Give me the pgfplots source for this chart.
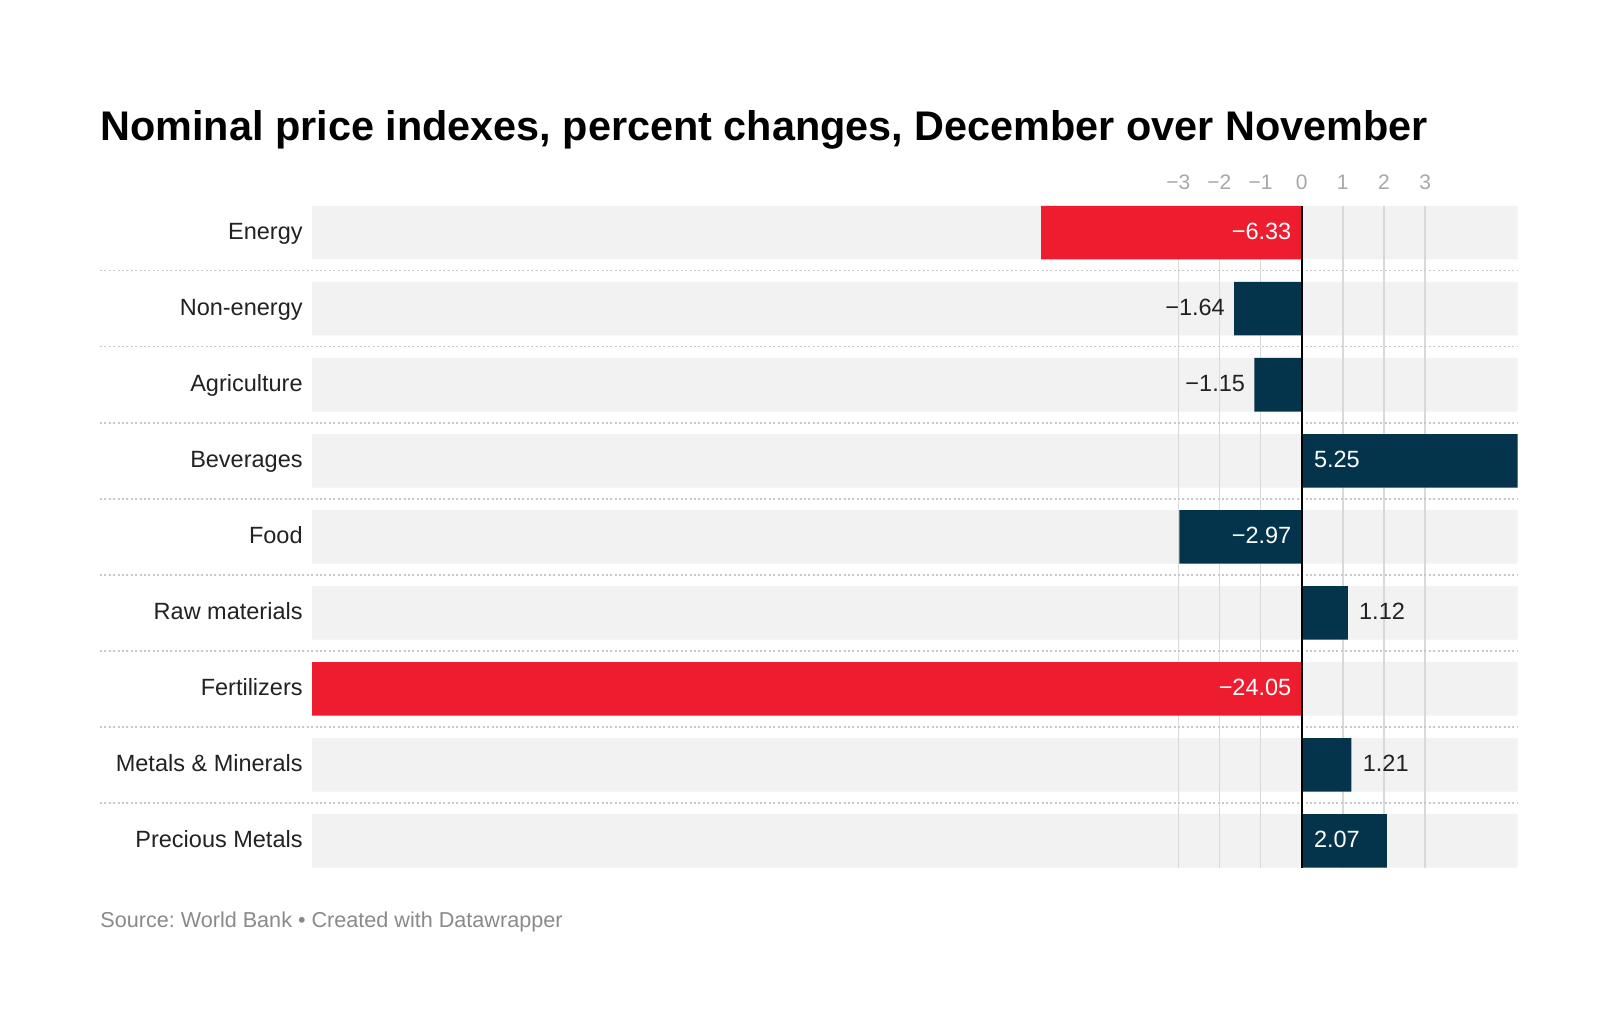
\documentclass[border=0pt]{standalone}
\usepackage{pgfplots}
\pgfplotsset{compat=1.18}
\usepackage{fontspec}
\setmainfont{Liberation Sans}
\definecolor{dwred}{HTML}{ED1C2E}
\definecolor{dwnavy}{HTML}{04344C}
\definecolor{bggray}{HTML}{F2F2F2}
\definecolor{gridgray}{HTML}{D9D9D9}
\definecolor{sepgray}{HTML}{C8C8C8}
\definecolor{tickgray}{HTML}{A8A8A8}
\definecolor{srcgray}{HTML}{8A8A8A}
\definecolor{labdark}{HTML}{222222}
\newcommand\mn{\char"2212\relax}
\newcommand\lblfont{\fontsize{11.75bp}{14bp}\selectfont}
\frenchspacing
\begin{document}
\begin{tikzpicture}
\useasboundingbox (0,0) rectangle (810bp,517bp);
\fill[white] (0,0) rectangle (810bp,517bp);
\node[anchor=base west, inner sep=0pt, font=\fontsize{20.7bp}{25bp}\selectfont\bfseries] at (50bp,446.5bp) {Nominal price indexes, percent changes, December over November};
\node[anchor=base west, inner sep=0pt, font=\fontsize{10.8bp}{13bp}\selectfont, text=srcgray] at (50bp,53bp) {Source: World Bank • Created with Datawrapper};
\begin{axis}[at={(156bp,83.25bp)}, anchor=south west, scale only axis,
  width=602.85bp, height=330.75bp,
  xmin=-24.05, xmax=5.25, ymin=-0.352, ymax=8.352, y dir=reverse,
  axis line style={draw=none}, major tick length=0pt,
  xtick={-3,-2,-1,0,1,2,3}, xticklabels={\mn3,\mn2,\mn1,0,1,2,3},
  xticklabel pos=upper,
  xticklabel style={anchor=base, yshift=8.4bp, inner sep=0pt, font=\fontsize{10.5bp}{12bp}\selectfont, text=tickgray},
  ytick={0,1,2,3,4,5,6,7,8},
  yticklabels={Energy,Non-energy,Agriculture,Beverages,Food,Raw materials,Fertilizers,Metals \& Minerals,Precious Metals},
  yticklabel style={anchor=base east, inner sep=0pt, xshift=-4.5bp, yshift=-3.6bp, font=\lblfont, text=labdark},
  clip=false]
% row backgrounds
\addplot[xbar, bar width=26.75bp, bar shift=0pt, fill=bggray, draw=none] coordinates {(5.25,0) (5.25,1) (5.25,2) (5.25,3) (5.25,4) (5.25,5) (5.25,6) (5.25,7) (5.25,8)};
\addplot[xbar, bar width=26.75bp, bar shift=0pt, fill=bggray, draw=none] coordinates {(-24.05,0) (-24.05,1) (-24.05,2) (-24.05,3) (-24.05,4) (-24.05,5) (-24.05,6) (-24.05,7) (-24.05,8)};
% grid
\pgfplotsinvokeforeach{-3,-2,-1,1,2,3}{\draw[gridgray, line width=0.7bp] (axis cs:#1,-0.352) -- (axis cs:#1,8.352);}
% separators
\pgfplotsinvokeforeach{0.5,1.5,2.5,3.5,4.5,5.5,6.5,7.5}{\draw[sepgray, line width=0.75bp, dash pattern=on 1bp off 1.2bp] ([xshift=-106bp]axis cs:-24.05,#1) -- (axis cs:5.25,#1);}
% data
\addplot[xbar, bar width=26.75bp, bar shift=0pt, fill=dwred, draw=none] coordinates {(-6.33,0) (-24.05,6)};
\addplot[xbar, bar width=26.75bp, bar shift=0pt, fill=dwnavy, draw=none] coordinates {(-1.64,1) (-1.15,2) (5.25,3) (-2.97,4) (1.12,5) (1.21,7) (2.07,8)};
\draw[black, line width=1bp] (axis cs:0,-0.352) -- (axis cs:0,8.352);
% value labels
\addplot[draw=none, mark=none, nodes near coords, point meta=explicit symbolic,
  every node near coord/.append style={anchor=base east, xshift=-5bp, yshift=-3.6bp, text=white, font=\lblfont, inner sep=0pt}]
  coordinates {(0,0) [\mn6.33] (0,4) [\mn2.97] (0,6) [\mn24.05]};
\addplot[draw=none, mark=none, nodes near coords, point meta=explicit symbolic,
  every node near coord/.append style={anchor=base east, xshift=-4.5bp, yshift=-3.6bp, text=labdark, font=\lblfont, inner sep=0pt}]
  coordinates {(-1.64,1) [\mn1.64] (-1.15,2) [\mn1.15]};
\addplot[draw=none, mark=none, nodes near coords, point meta=explicit symbolic,
  every node near coord/.append style={anchor=base west, xshift=6bp, yshift=-3.6bp, text=white, font=\lblfont, inner sep=0pt}]
  coordinates {(0,3) [5.25] (0,8) [2.07]};
\addplot[draw=none, mark=none, nodes near coords, point meta=explicit symbolic,
  every node near coord/.append style={anchor=base west, xshift=5.5bp, yshift=-3.6bp, text=labdark, font=\lblfont, inner sep=0pt}]
  coordinates {(1.12,5) [1.12] (1.21,7) [1.21]};
\end{axis}
\end{tikzpicture}
\end{document}
